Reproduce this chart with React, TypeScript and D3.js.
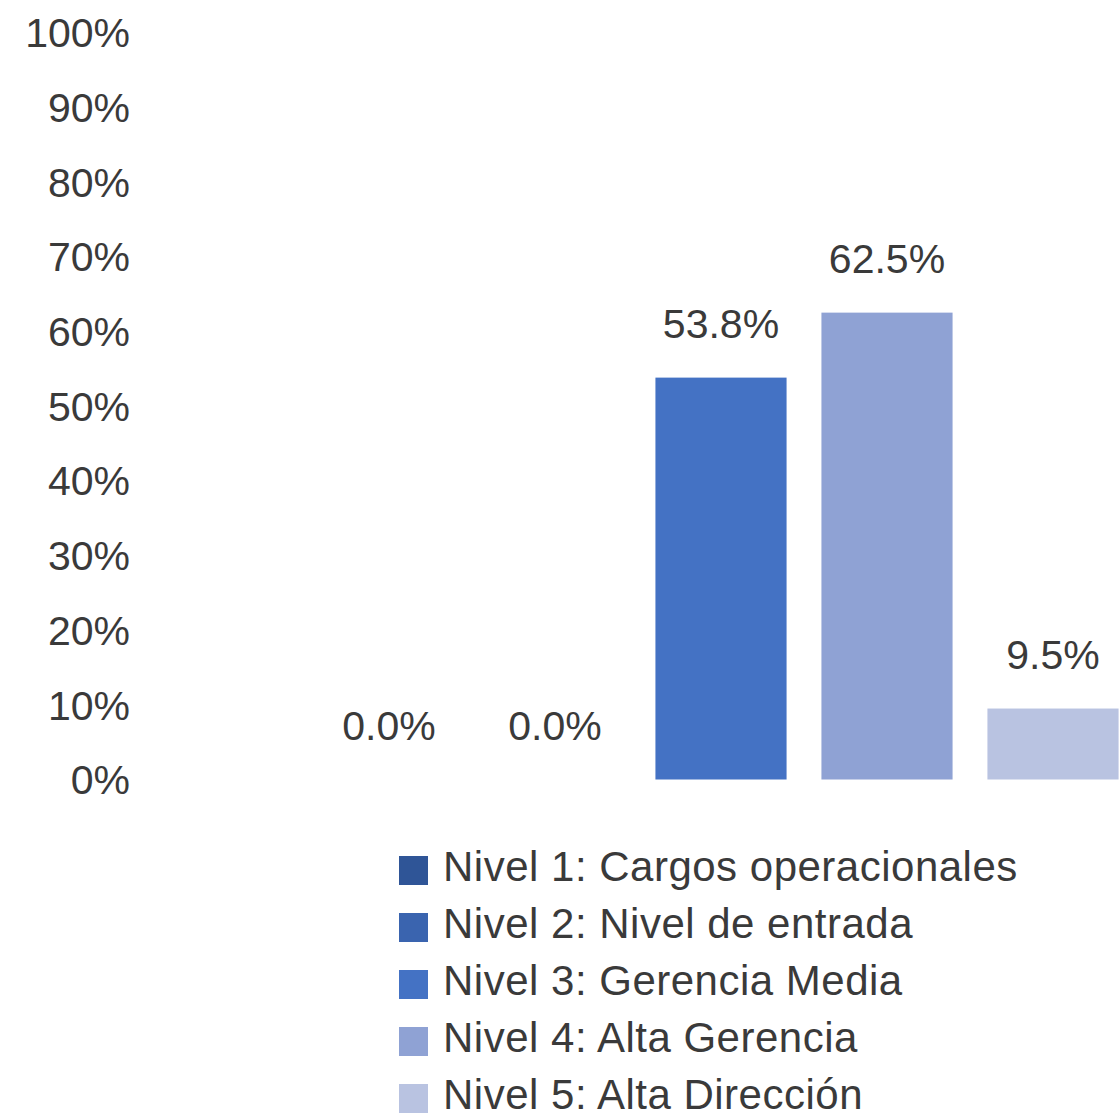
import React from 'react';
import * as d3 from 'd3';

const categories = [
  'Nivel 1: Cargos operacionales',
  'Nivel 2: Nivel de entrada',
  'Nivel 3: Gerencia Media',
  'Nivel 4: Alta Gerencia',
  'Nivel 5: Alta Dirección'
];
const values = [0, 0, 0.538, 0.625, 0.095];
const colors = ['#2F5597', '#3A64AF', '#4472C4', '#8FA2D4', '#B9C3E1'];
const yTicks = [0, 0.1, 0.2, 0.3, 0.4, 0.5, 0.6, 0.7, 0.8, 0.9, 1];

const width = 1119;
const height = 1118;
const font = '"Liberation Sans", Arial, sans-serif';
const textColor = '#3a3a3a';

const App = () => {
  const x = d3.scaleBand<string>()
    .domain(categories)
    .range([306, 1136])
    .paddingInner(0.21)
    .paddingOuter(0.105);

  const y = d3.scaleLinear()
    .domain([0, 1])
    .range([779.5, 32.5]);

  const fmtTick = d3.format('.0%');
  const fmtLabel = d3.format('.1%');

  return (
    <svg width={width} height={height} style={{ display: 'block', position: 'absolute', left: 0, top: 0 }}>
      <rect width={width} height={height} fill='#fff' />
      {yTicks.map(t =>
        <text key={`tick-${t}`} x={130} y={y(t)} dy='0.36em' textAnchor='end'
          fontFamily={font} fontSize={41} fill={textColor}>
          {fmtTick(t)}
        </text>
      )}
      {categories.map((c, i) =>
        <g key={`bar-${i}`}>
          <rect x={x(c)} y={y(values[i])} width={x.bandwidth()} height={y(0) - y(values[i])} fill={colors[i]} />
          <text x={(x(c) as number) + x.bandwidth() / 2} y={y(values[i]) - 40} textAnchor='middle'
            fontFamily={font} fontSize={41} fill={textColor}>
            {fmtLabel(values[i])}
          </text>
        </g>
      )}
      {categories.map((c, i) =>
        <g key={`legend-${i}`} transform={`translate(399, ${856 + i * 57})`}>
          <rect width={29} height={29} fill={colors[i]} />
          <text x={44} y={25} fontFamily={font} fontSize={42} letterSpacing={0.5} fill={textColor}>{c}</text>
        </g>
      )}
    </svg>
  );
};

export default App;
